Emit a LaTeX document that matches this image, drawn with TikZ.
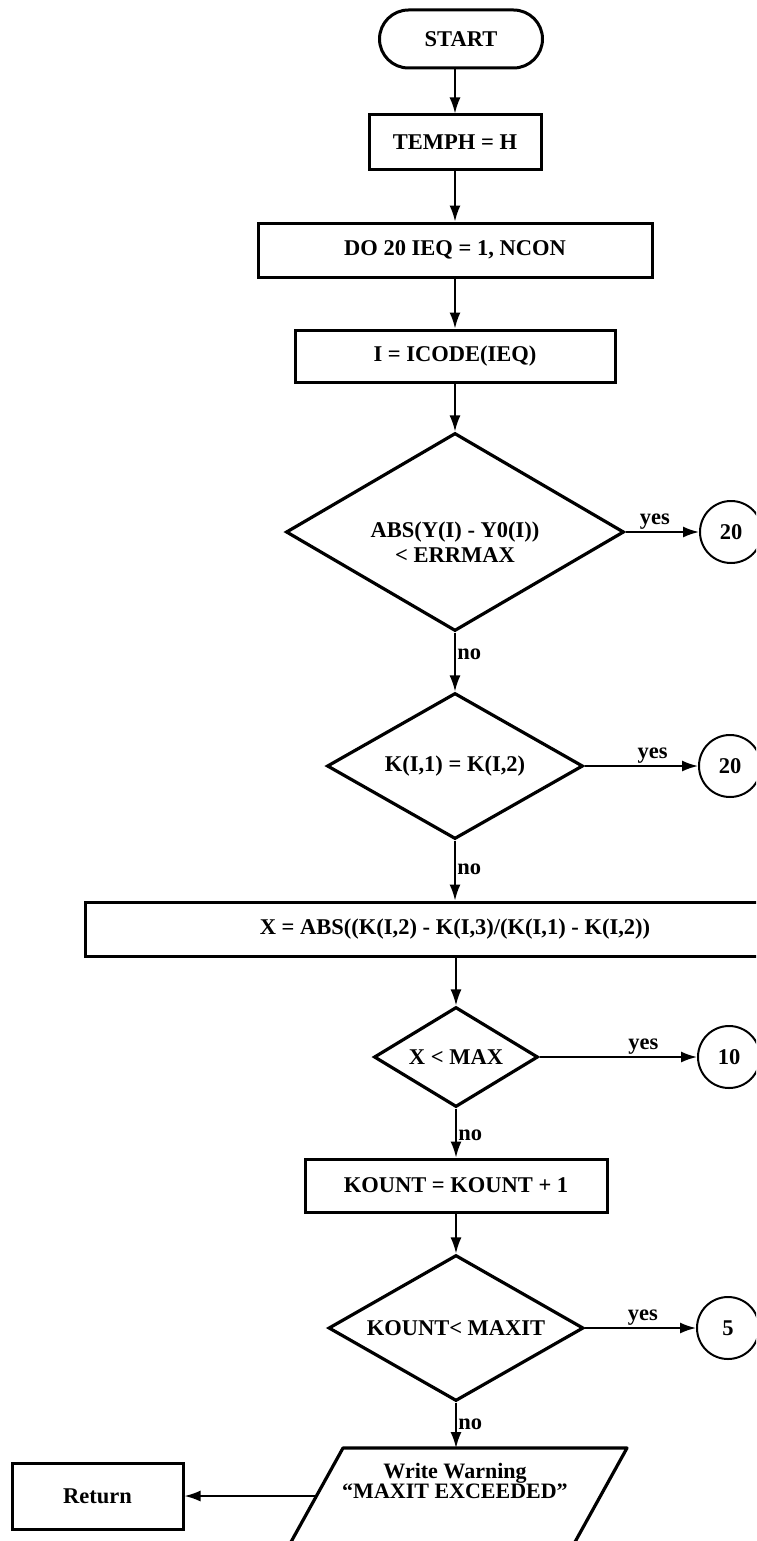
\documentclass[tikz,border=0pt]{standalone}
\usepackage{fontspec}
\setmainfont{Liberation Serif}
\usetikzlibrary{arrows.meta,shapes.geometric,calc}
\begin{document}
\begin{tikzpicture}[x=1pt,y=-1pt,
  every node/.style={font=\fontsize{22.5}{25}\selectfont\bfseries},
  procbox/.style={draw,line width=3pt,rectangle,inner sep=0pt},
  decision/.style={draw,line width=3.2pt,diamond,inner sep=0pt},
  connector/.style={draw,line width=2pt,circle,inner sep=0pt,minimum size=62},
  arr/.style={line width=1.8pt,-{Latex[length=16pt,width=11pt]}},
  lab/.style={inner sep=1.5pt}
]
\useasboundingbox (0,0) rectangle (756,1541);
\clip (0,0) rectangle (756,1541);

% nodes
\node[procbox,rounded corners=29pt,minimum width=163,minimum height=58] (start) at (461,39) {START};
\node[procbox,minimum width=172,minimum height=55] (temph) at (455,142.5) {TEMPH = H};
\node[procbox,minimum width=394,minimum height=54] (do20) at (455,250) {DO 20 IEQ = 1, NCON};
\node[procbox,minimum width=320,minimum height=52] (icode) at (455,356) {I = ICODE(IEQ)};
\node[decision,aspect=1.71,minimum width=338,minimum height=198] (d1) at (455,532) {};
\node[align=center,inner sep=0pt] (d1t) at (455,542) {ABS(Y(I) - Y0(I))\\< ERRMAX};
\node[connector] (c1) at (731,532) {20};
\node[decision,aspect=1.75,minimum width=256,minimum height=146] (d2) at (455,766) {K(I,1) = K(I,2)};
\node[connector] (c2) at (730,766) {20};
\node[procbox,minimum width=740,minimum height=54] (xbox) at (455,929) {X = ABS((K(I,2) - K(I,3)/(K(I,1) - K(I,2))};
\node[decision,aspect=1.64,minimum width=164,minimum height=100] (d3) at (456,1057) {X < MAX};
\node[connector] (c3) at (729,1057) {10};
\node[procbox,minimum width=302,minimum height=53] (kount) at (456,1185.5) {KOUNT = KOUNT + 1};
\node[decision,aspect=1.75,minimum width=255,minimum height=146] (d4) at (456,1328) {KOUNT< MAXIT};
\node[connector] (c4) at (728,1328) {5};

% output parallelogram (cut by the page bottom)
\draw[line width=3.2pt,line join=round] (281,1560) -- (343,1448) -- (627,1448) -- (565,1560);
\coordinate (ptop) at (456,1448);
\coordinate (pleft) at (316,1496);
\node[align=center,inner sep=0pt,font=\fontsize{22}{20.5}\selectfont\bfseries] (warn) at (455,1481) {Write Warning\\“MAXIT EXCEEDED”};
\node[procbox,minimum width=171,minimum height=66] (ret) at (97.5,1496) {Return};

% connectors
\draw[arr] (temph.north |- start.south) -- (temph.north);
\draw[arr] (temph.south) -- (temph.south |- do20.north);
\draw[arr] (icode.north |- do20.south) -- (icode.north);
\draw[arr] (icode.south) -- (d1.north);
\draw[arr] (d1.east) -- node[lab,above,pos=0.4] {yes} (c1.west);
\draw[arr] (d1.south) -- node[lab,right,pos=0.37] {no} (d2.north);
\draw[arr] (d2.east) -- node[lab,above,pos=0.6] {yes} (c2.west);
\draw[arr] (d2.south) -- node[lab,right,pos=0.48] {no} (d2.south |- xbox.north);
\draw[arr] (d3.north |- xbox.south) -- (d3.north);
\draw[arr] (d3.east) -- node[lab,above,pos=0.66] {yes} (c3.west);
\draw[arr] (d3.south) -- node[lab,right,pos=0.54] {no} (d3.south |- kount.north);
\draw[arr] (kount.south) -- (kount.south |- d4.north);
\draw[arr] (d4.east) -- node[lab,above,pos=0.52] {yes} (c4.west);
\draw[arr] (d4.south) -- node[lab,right,pos=0.47] {no} (ptop);
\draw[arr] (pleft) -- (ret.east);
\end{tikzpicture}
\end{document}
